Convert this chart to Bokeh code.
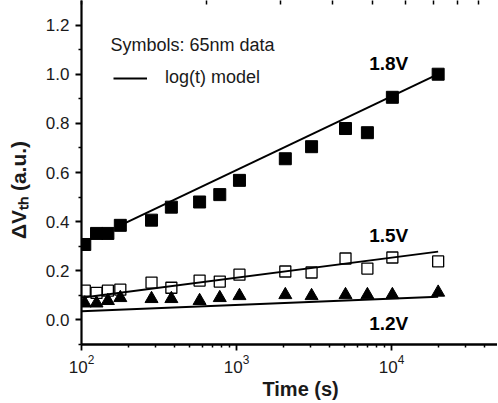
import math
from bokeh.plotting import figure
from bokeh.models import (Range1d, LinearAxis, FixedTicker, SingleIntervalTicker,
                          Label, Legend, LegendItem, NumeralTickFormatter)
from bokeh.embed import file_html
from bokeh.resources import INLINE

# ---- data ----
times = [105, 125, 148, 178, 283, 380, 578, 780, 1045, 2065, 3050, 5050, 6990, 10130, 20000]
dvth_18 = [0.307, 0.352, 0.352, 0.385, 0.406, 0.459, 0.480, 0.510, 0.568, 0.656, 0.705, 0.779, 0.762, 0.906, 1.000]
dvth_15 = [0.119, 0.110, 0.119, 0.123, 0.152, 0.131, 0.160, 0.156, 0.184, 0.197, 0.193, 0.250, 0.209, 0.254, 0.238]
dvth_12 = [0.068, 0.068, 0.078, 0.090, 0.086, 0.086, 0.078, 0.090, 0.098, 0.102, 0.098, 0.102, 0.102, 0.102, 0.112]

model_18_t = [178, 20000]
model_18_v = [0.385, 1.000]
model_15_t = [100, 20000]
model_15_v = [0.090, 0.278]
model_12_t = [100, 20000]
model_12_v = [0.035, 0.094]

x_major = [1e2, 1e3, 1e4]
x_minor = [m * 10 ** k for k in (2, 3, 4) for m in range(2, 10)]
y_major = [0.0, 0.2, 0.4, 0.6, 0.8, 1.0, 1.2]
y_minor = [-0.1, 0.1, 0.3, 0.5, 0.7, 0.9, 1.1]

FONT = "Liberation Sans"
TXT = "#1a1a1a"
NB = "\u00a0"

W, H = 497, 402
LEFT, BOTTOM, TOP = 81, 56, 0
frame_w = W - LEFT

p = figure(width=W, height=H, x_axis_type="log",
           x_range=Range1d(100, 10 ** (2 + frame_w / 155)), y_range=Range1d(-0.1, 1.3),
           output_backend="svg", toolbar_location=None,
           min_border_left=LEFT, min_border_right=0, min_border_top=TOP,
           min_border_bottom=BOTTOM)
p.grid.visible = False
p.outline_line_color = None
p.background_fill_color = "white"
p.border_fill_color = "white"

# bottom axis
xa = p.xaxis[0]
xa.ticker = FixedTicker(ticks=x_major, minor_ticks=x_minor)
xa.axis_line_width = 2.5
xa.major_tick_line_width = 1.8
xa.minor_tick_line_width = 1.5
xa.major_tick_out = 6
xa.major_tick_in = 0
xa.minor_tick_out = 3
xa.minor_tick_in = 0
xa.major_label_text_font = FONT
xa.major_label_text_font_size = "17px"
xa.major_label_text_color = TXT
xa.major_label_standoff = 4
xa.axis_label = NB * 4 + "Time (s)"
xa.axis_label_text_font = FONT
xa.axis_label_text_font_size = "20px"
xa.axis_label_text_font_style = "bold"
xa.axis_label_text_color = TXT
xa.axis_label_standoff = 2

# left axis
ya = p.yaxis[0]
ya.ticker = FixedTicker(ticks=y_major, minor_ticks=y_minor)
ya.formatter = NumeralTickFormatter(format="0.0")
ya.axis_line_width = 2.2
ya.major_tick_line_width = 1.8
ya.minor_tick_line_width = 1.5
ya.major_tick_out = 6
ya.major_tick_in = 0
ya.minor_tick_out = 3
ya.minor_tick_in = 0
ya.major_label_text_font = FONT
ya.major_label_text_font_size = "17px"
ya.major_label_text_color = TXT
ya.major_label_standoff = 6
ya.axis_label = "ΔV\u209c\u2095 (a.u.)" + NB * 6
ya.axis_label_text_font = FONT
ya.axis_label_text_font_size = "21px"
ya.axis_label_text_font_style = "bold"
ya.axis_label_text_color = TXT
ya.axis_label_standoff = 13

# top border with inward ticks
p.extra_x_ranges = {"top": Range1d(0, frame_w / 41.7)}
top = LinearAxis(x_range_name="top", ticker=SingleIntervalTicker(interval=1, num_minor_ticks=0),
                 major_label_text_font_size="1px", major_label_text_color=None,
                 major_label_standoff=0,
                 major_tick_in=4, major_tick_out=0, minor_tick_in=0, minor_tick_out=0,
                 axis_line_width=2, major_tick_line_width=1.5)
p.add_layout(top, "above")

# data
p.scatter(times, dvth_15, marker="square", size=11, fill_color=None,
          line_color="black", line_width=1.3)
p.scatter(times, dvth_18, marker="square", size=12, fill_color="black", line_color="black")
p.scatter(times, dvth_12, marker="triangle", size=13, fill_color="black", line_color="black")

l18 = p.line(model_18_t, model_18_v, line_color="black", line_width=2)
p.line(model_15_t, model_15_v, line_color="black", line_width=2)
p.line(model_12_t, model_12_v, line_color="black", line_width=2)

# legend
leg = Legend(items=[LegendItem(label="log(t) model", renderers=[l18])],
             location=(32, 256), padding=0, margin=0, spacing=0,
             glyph_width=34, glyph_height=20, label_height=20, label_standoff=18,
             label_text_font=FONT, label_text_font_size="18px", label_text_color=TXT,
             border_line_color=None, background_fill_alpha=0)
p.add_layout(leg, "center")

p.add_layout(Label(x=29, y=300, x_units="screen", y_units="screen", text="Symbols: 65nm data",
                   text_font=FONT, text_font_size="18px", text_color=TXT,
                   text_align="left", text_baseline="middle"))

for txt, yv in (("1.8V", 1.045), ("1.5V", 0.345), ("1.2V", -0.015)):
    p.add_layout(Label(x=9600, y=yv, text=txt, text_font=FONT, text_font_size="19px",
                       text_font_style="bold", text_color="black",
                       text_align="center", text_baseline="middle"))

open("out.html", "w").write(file_html(p, INLINE))
